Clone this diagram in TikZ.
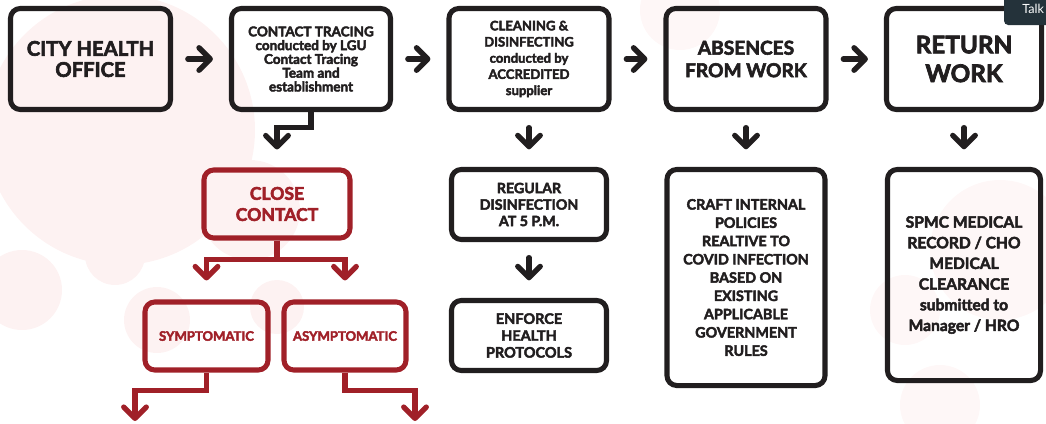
\documentclass[tikz,border=0pt]{standalone}
\usepackage{fontspec}
\setmainfont{Lato}[BoldFeatures={FakeBold=3}]
\usepackage{tkz-euclide}
\usetikzlibrary{arrows.meta}

\definecolor{ink}{RGB}{33,30,31}
\definecolor{cred}{RGB}{160,32,40}
\definecolor{blush}{RGB}{253,242,242}
\definecolor{blushlight}{RGB}{254,247,247}
\definecolor{talkbg}{RGB}{36,50,58}

\begin{document}
\begin{tikzpicture}[x=0.025cm,y=-0.025cm,
            box/.style={draw=ink,line width=3.6pt,rounded corners=7pt,align=center,
                        text=ink,inner sep=0pt},
            redbox/.style={box,draw=cred,text=cred},
            flow/.style={draw=ink,line width=3.8pt,line cap=round,
                         -{Straight Barb[length=8pt,width=16pt,round]}},
            redflow/.style={flow,draw=cred}]
            \clip (0,0) rectangle (1046,423);

            % faint watermark
            \fill[blush] (120,130) circle (135);
            \fill[blush] (250,210) circle (50);
            \fill[blush] (22,290) circle (40);
            \fill[blush] (115,255) circle (30);
            \fill[blush] (157,320) circle (33);
            \fill[blush] (277,307) circle (27);
            \fill[blushlight] (1000,250) circle (70);
            \fill[blushlight] (905,310) circle (35);
            \fill[blushlight] (940,405) circle (40);
            \fill[blushlight] (680,10) circle (40);

            \tkzDefPoint(90.5,59){cho}
            \tkzDefPoint(311,59){ct}
            \tkzDefPoint(529,59){cd}
            \tkzDefPoint(746,59){aw}
            \tkzDefPoint(964,59){rw}
            \tkzDefPoint(277,204){cc}
            \tkzDefPoint(206.5,336){sy}
            \tkzDefPoint(345,336){as}
            \tkzDefPoint(529,204.5){rd}
            \tkzDefPoint(529,335.5){eh}
            \tkzDefPoint(746,277.5){cp}
            \tkzDefPoint(964,275){mr}
            \tkzDefPoint(135,421){syout}
            \tkzDefPoint(415,421){asout}

            % top row
            \node[box,minimum width=4cm,minimum height=2.525cm,
                  font=\bfseries\fontsize{14.4}{15}\selectfont] (CHO) at (cho)
                  {CITY HEALTH\\OFFICE};
            \node[box,minimum width=3.975cm,minimum height=2.525cm,
                  font=\bfseries\fontsize{9.6}{9.8}\selectfont] (CT) at (ct)
                  {CONTACT TRACING\\conducted by LGU\\Contact Tracing\\Team and\\establishment};
            \node[box,minimum width=4cm,minimum height=2.525cm,
                  font=\bfseries\fontsize{9.3}{11.5}\selectfont] (CD) at (cd)
                  {CLEANING \&\\DISINFECTING\\conducted by\\ACCREDITED\\supplier};
            \node[box,minimum width=4cm,minimum height=2.525cm,
                  font=\bfseries\fontsize{13.6}{16}\selectfont] (AW) at (aw)
                  {ABSENCES\\FROM WORK};
            \node[box,minimum width=3.875cm,minimum height=2.525cm,
                  font=\bfseries\fontsize{17.3}{20.5}\selectfont] (RW) at (rw)
                  {RETURN\\WORK};

            % close contact branch
            \node[redbox,minimum width=3.65cm,minimum height=1.7cm,
                  font=\bfseries\fontsize{12.5}{15}\selectfont] (CC) at (cc)
                  {CLOSE\\CONTACT};
            \node[redbox,minimum width=3.075cm,minimum height=1.7cm,
                  font=\bfseries\fontsize{9.3}{11}\selectfont] (SY) at (sy)
                  {SYMPTOMATIC};
            \node[redbox,minimum width=3.05cm,minimum height=1.7cm,
                  font=\bfseries\fontsize{9.3}{11}\selectfont] (AS) at (as)
                  {ASYMPTOMATIC};

            % lower boxes
            \node[box,minimum width=3.875cm,minimum height=1.75cm,
                  font=\bfseries\fontsize{10.1}{11.7}\selectfont] (RD) at (rd)
                  {REGULAR\\DISINFECTION\\AT 5 P.M.};
            \node[box,minimum width=3.875cm,minimum height=1.75cm,
                  font=\bfseries\fontsize{10.3}{12}\selectfont] (EH) at (eh)
                  {ENFORCE\\HEALTH\\PROTOCOLS};
            \node[box,minimum width=3.95cm,minimum height=5.4cm,
                  font=\bfseries\fontsize{10.2}{13}\selectfont] (CP) at (cp)
                  {CRAFT INTERNAL\\POLICIES\\REALTIVE TO\\COVID INFECTION\\BASED ON\\EXISTING\\APPLICABLE\\GOVERNMENT\\RULES};
            \node[box,minimum width=3.825cm,minimum height=5.275cm,
                  font=\bfseries\fontsize{11.1}{14.7}\selectfont] (MR) at (mr)
                  {SPMC MEDICAL\\RECORD / CHO\\MEDICAL\\CLEARANCE\\submitted to\\Manager / HRO};

            % arrows
            \draw[flow,shorten <=0.37cm,shorten >=0.4cm] (CHO) -- (CT);
            \draw[flow,shorten <=0.37cm,shorten >=0.4cm] (CT) -- (CD);
            \draw[flow,shorten <=0.37cm,shorten >=0.4cm] (CD) -- (AW);
            \draw[flow,shorten <=0.37cm,shorten >=0.4cm] (AW) -- (RW);
            \draw[flow,shorten <=0.39cm,shorten >=0.44cm] (CD) -- (RD);
            \draw[flow,shorten <=0.39cm,shorten >=0.44cm] (RD) -- (EH);
            \draw[flow,shorten <=0.39cm,shorten >=0.44cm] (AW) -- (CP);
            \draw[flow,shorten <=0.39cm,shorten >=0.44cm] (RW) -- (MR);
            \draw[flow,line cap=butt,shorten >=0.45cm] (CT.south) -- ++(0,15.5) -| (CC.north);
            \draw[redflow,line cap=butt,shorten >=0.475cm] (CC.south) -- ++(0,19) -| (SY.north);
            \draw[redflow,line cap=butt,shorten >=0.475cm] (CC.south) -- ++(0,19) -| (AS.north);
            \draw[redflow,line cap=butt] (SY.south) -- ++(0,18) -| (syout);
            \draw[redflow,line cap=butt] (AS.south) -- ++(0,18) -| (asout);

            % screen overlay
            \fill[talkbg,rounded corners=3pt] (1004,-6) rectangle (1060,25);
            \node[anchor=west,text=white,inner sep=0pt,
                  font=\fontsize{9}{10}\selectfont] (TK) at (1022,9) {Talk};
        \end{tikzpicture}
\end{document}
